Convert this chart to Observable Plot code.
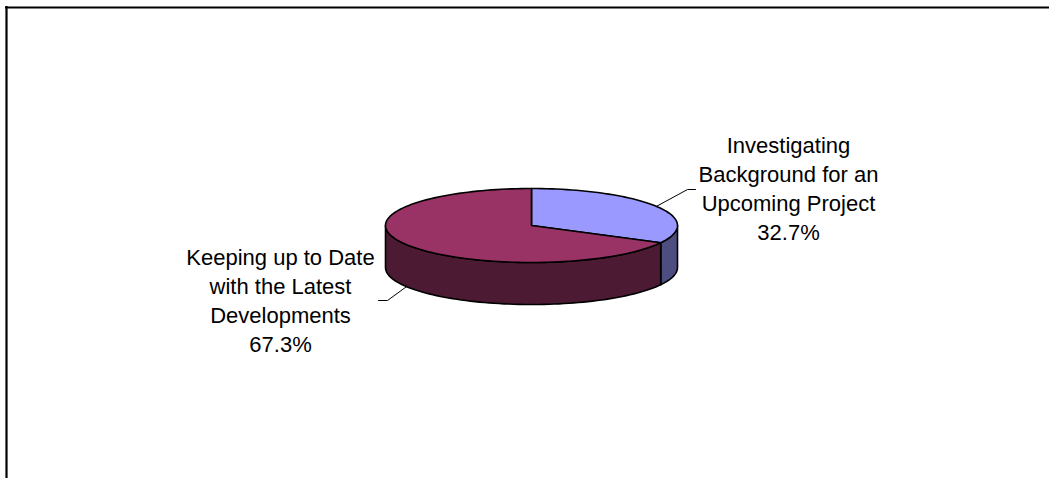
<!DOCTYPE html>
<html>
<head>
<meta charset="utf-8">
<script src="https://cdn.jsdelivr.net/npm/d3@7"></script>
<script src="https://cdn.jsdelivr.net/npm/@observablehq/plot@0.6"></script>
<style>
  html, body { margin: 0; padding: 0; background: #ffffff; }
  #chart svg { display: block; font-family: "Liberation Sans", Arial, sans-serif; }
</style>
</head>
<body>
<div id="chart"></div>
<script>
// ---- data ----
const categories = [
  "Investigating Background for an Upcoming Project",
  "Keeping up to Date with the Latest Developments"
];
const labelLines = [
  ["Investigating", "Background for an", "Upcoming Project"],
  ["Keeping up to Date", "with the Latest", "Developments"]
];
const shares = [32.7, 67.3];
const topColors = ["#9999FF", "#993366"];
const sideColors = ["#4D4D80", "#4D1A33"];

// ---- layout ----
const W = 1049, H = 478;
const cx = 531, cy = 225, rx = 146, ry = 37, depth = 42;
const labelPos = [[788, 187], [280, 298.5]];
const leaderElbow = [[[687, 189], [695, 189]], [[387, 300], [378, 300]]];

const total = d3.sum(shares);
let acc = 0;
const slices = shares.map((v, i) => {
  const a0 = acc / total * 2 * Math.PI;
  acc += v;
  const a1 = acc / total * 2 * Math.PI;
  return {i, v, a0, a1, mid: (a0 + a1) / 2};
});

const px = (a, dy = 0) => [cx + rx * Math.sin(a), cy - ry * Math.cos(a) + dy];
function arcPts(a0, a1, dy = 0) {
  const n = Math.max(2, Math.ceil((a1 - a0) / (Math.PI / 90)));
  const pts = [];
  for (let k = 0; k <= n; k++) pts.push(px(a0 + (a1 - a0) * k / n, dy));
  return pts;
}

const marks = [];
// side faces (front half: 90deg..270deg)
const f0 = Math.PI / 2, f1 = 3 * Math.PI / 2;
slices.forEach(s => {
  const a0 = Math.max(s.a0, f0), a1 = Math.min(s.a1, f1);
  if (a1 <= a0) return;
  const top = arcPts(a0, a1, 0);
  const bot = arcPts(a0, a1, depth).reverse();
  const poly = [...top, ...bot, top[0]].map(([x, y]) => ({x, y}));
  marks.push(Plot.line(poly, {x: "x", y: "y", fill: sideColors[s.i], stroke: "black", strokeWidth: 1.6, curve: "linear"}));
});
// top faces
slices.forEach(s => {
  const pts = [[cx, cy], ...arcPts(s.a0, s.a1, 0), [cx, cy]].map(([x, y]) => ({x, y}));
  marks.push(Plot.line(pts, {x: "x", y: "y", fill: topColors[s.i], stroke: "black", strokeWidth: 1.6, curve: "linear"}));
});
// leader lines
slices.forEach(s => {
  const front = Math.cos(s.mid) < 0;
  const start = px(s.mid, front ? depth : 0);
  const pts = [start, ...leaderElbow[s.i]].map(([x, y]) => ({x, y}));
  marks.push(Plot.line(pts, {x: "x", y: "y", stroke: "black", strokeWidth: 1}));
});
// labels
const labels = slices.map(s => ({
  x: labelPos[s.i][0], y: labelPos[s.i][1],
  text: [...labelLines[s.i], d3.format(".1f")(s.v) + "%"].join("\n")
}));
marks.push(Plot.text(labels, {x: "x", y: "y", text: "text", fontSize: 22, lineHeight: 1.318, fill: "black", textAnchor: "middle", lineAnchor: "middle"}));
// chart area border (only top/left visible)
marks.push(Plot.ruleY([7], {x1: 5, x2: W, stroke: "black", strokeWidth: 2.2}));
marks.push(Plot.ruleX([6], {y1: 6, y2: H, stroke: "black", strokeWidth: 2.2}));

const chart = Plot.plot({
  width: W, height: H, margin: 0,
  x: {domain: [0, W], range: [0, W], axis: null},
  y: {domain: [0, H], range: [0, H], axis: null},
  style: {background: "white", fontFamily: "Liberation Sans, Arial, sans-serif"},
  marks
});
document.getElementById("chart").appendChild(chart);
</script>
</body>
</html>
